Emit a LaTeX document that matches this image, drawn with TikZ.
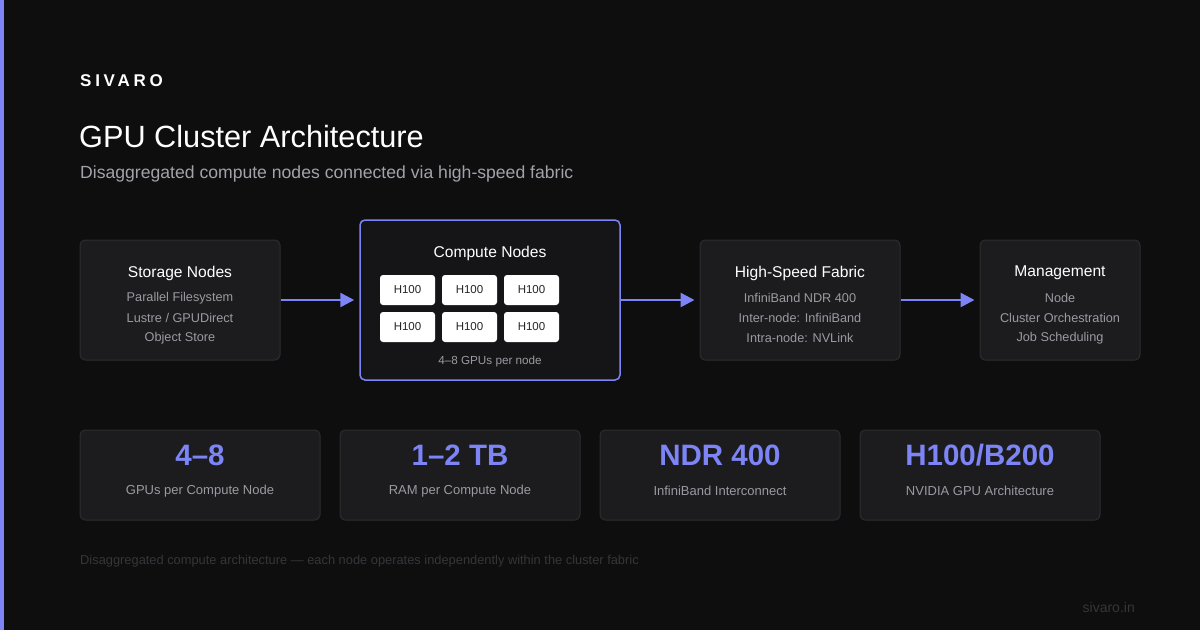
\documentclass[tikz,border=0pt]{standalone}
\usepackage{fontspec}
\setmainfont{Liberation Sans}
\newfontfamily\spacedfont[LetterSpace=22]{Liberation Sans}
\usetikzlibrary{arrows.meta}
\definecolor{bg}{HTML}{0E0E0F}
\definecolor{accent}{HTML}{7C84F6}
\definecolor{card}{HTML}{1C1C1F}
\definecolor{cardline}{HTML}{2D2D31}
\definecolor{cfill}{HTML}{151518}
\definecolor{txtgray}{HTML}{9A9AA2}
\definecolor{subgray}{HTML}{A2A2AA}
\definecolor{dim}{HTML}{36363A}
\definecolor{chiptxt}{HTML}{26262A}
\tikzset{
  cardbox/.style={draw=cardline, fill=card, line width=1pt, rounded corners=5pt, inner sep=0pt},
  hibox/.style={draw=accent, fill=cfill, line width=1.5pt, rounded corners=5pt, inner sep=0pt},
  chip/.style={fill=white, rounded corners=3pt, minimum width=55pt, minimum height=30pt, inner sep=0pt,
    font=\fontsize{11.5}{13}\selectfont, text=chiptxt},
  boxtitle/.style={text=white, font=\fontsize{15.6}{18}\selectfont, inner sep=0pt},
  boxline/.style={text=txtgray, font=\fontsize{12.7}{15}\selectfont, inner sep=0pt},
  bignum/.style={text=accent, font=\bfseries\fontsize{29.5}{34}\selectfont, inner sep=0pt},
  statlabel/.style={text=txtgray, font=\fontsize{13}{16}\selectfont, inner sep=0pt},
  flow/.style={draw=accent, line width=2.5pt, shorten >=5pt, -{Triangle[length=14pt,width=14pt]}}
}
\begin{document}
\begin{tikzpicture}[x=1pt,y=-1pt]
\fill[bg] (0,0) rectangle (1200,630);
\useasboundingbox (0,0) rectangle (1200,630);
\fill[accent] (0,0) rectangle (4,630);

% header
\node[anchor=west, inner sep=0pt, text=white, font=\spacedfont\bfseries\fontsize{17}{20}\selectfont] (brand) at (80,81) {SIVARO};
\node[anchor=west, inner sep=0pt, text=white, font=\fontsize{30.7}{36}\selectfont] (title) at (79,137) {GPU Cluster Architecture};
\node[anchor=west, inner sep=0pt, text=subgray, font=\fontsize{17.6}{20}\selectfont] (subtitle) at (80,174) {Disaggregated compute nodes connected via high-speed fabric};

% storage
\node[cardbox, minimum width=200pt, minimum height=120pt] (storage) at (180,300) {};
\node[boxtitle] (st) at (180,273) {Storage Nodes};
\node[boxline] (s1) at (180,298) {Parallel Filesystem};
\node[boxline] (s2) at (180,318) {Lustre / GPUDirect};
\node[boxline] (s3) at (180,338) {Object Store};

% compute
\node[hibox, minimum width=260pt, minimum height=160pt] (compute) at (490,300) {};
\node[boxtitle] (ct) at (490,253) {Compute Nodes};
\node[chip] (g1) at (407.5,290) {H100};
\node[chip] (g2) at (469.5,290) {H100};
\node[chip] (g3) at (531.5,290) {H100};
\node[chip] (g4) at (407.5,327) {H100};
\node[chip] (g5) at (469.5,327) {H100};
\node[chip] (g6) at (531.5,327) {H100};
\node[text=txtgray, font=\fontsize{11.7}{13}\selectfont, inner sep=0pt] (cn) at (490,361) {4–8 GPUs per node};

% fabric
\node[cardbox, minimum width=200pt, minimum height=120pt] (fabric) at (800,300) {};
\node[boxtitle] (ft) at (800,273) {High-Speed Fabric};
\node[boxline] (f1) at (800,298) {InfiniBand NDR 400};
\node[boxline] (f2) at (800,318) {Inter-node: InfiniBand};
\node[boxline] (f3) at (800,338) {Intra-node: NVLink};

% management
\node[cardbox, minimum width=160pt, minimum height=120pt] (mgmt) at (1060,300) {};
\node[boxtitle] (mt) at (1060,273) {Management};
\node[boxline] (m1) at (1060,298) {Node};
\node[boxline] (m2) at (1060,318) {Cluster Orchestration};
\node[boxline] (m3) at (1060,338) {Job Scheduling};

% arrows
\draw[flow] (storage.east) -- (compute.west);
\draw[flow] (compute.east) -- (fabric.west);
\draw[flow] (fabric.east) -- (mgmt.west);

% stats
\node[cardbox, minimum width=240pt, minimum height=90pt] (k1) at (200,475) {};
\node[bignum] (k1n) at (200,455) {4–8};
\node[statlabel] (k1l) at (200,491) {GPUs per Compute Node};
\node[cardbox, minimum width=240pt, minimum height=90pt] (k2) at (460,475) {};
\node[bignum] (k2n) at (460,455) {1–2 TB};
\node[statlabel] (k2l) at (460,491) {RAM per Compute Node};
\node[cardbox, minimum width=240pt, minimum height=90pt] (k3) at (720,475) {};
\node[bignum] (k3n) at (720,455) {NDR 400};
\node[statlabel] (k3l) at (720,491) {InfiniBand Interconnect};
\node[cardbox, minimum width=240pt, minimum height=90pt] (k4) at (980,475) {};
\node[bignum] (k4n) at (980,455) {H100/B200};
\node[statlabel] (k4l) at (980,491) {NVIDIA GPU Architecture};

% footer
\node[anchor=west, inner sep=0pt, text=dim, font=\fontsize{12.85}{15}\selectfont] (foot) at (80,561) {Disaggregated compute architecture — each node operates independently within the cluster fabric};
\node[anchor=east, inner sep=0pt, text=dim, font=\fontsize{14}{16}\selectfont] (url) at (1135,607) {sivaro.in};
\end{tikzpicture}
\end{document}
